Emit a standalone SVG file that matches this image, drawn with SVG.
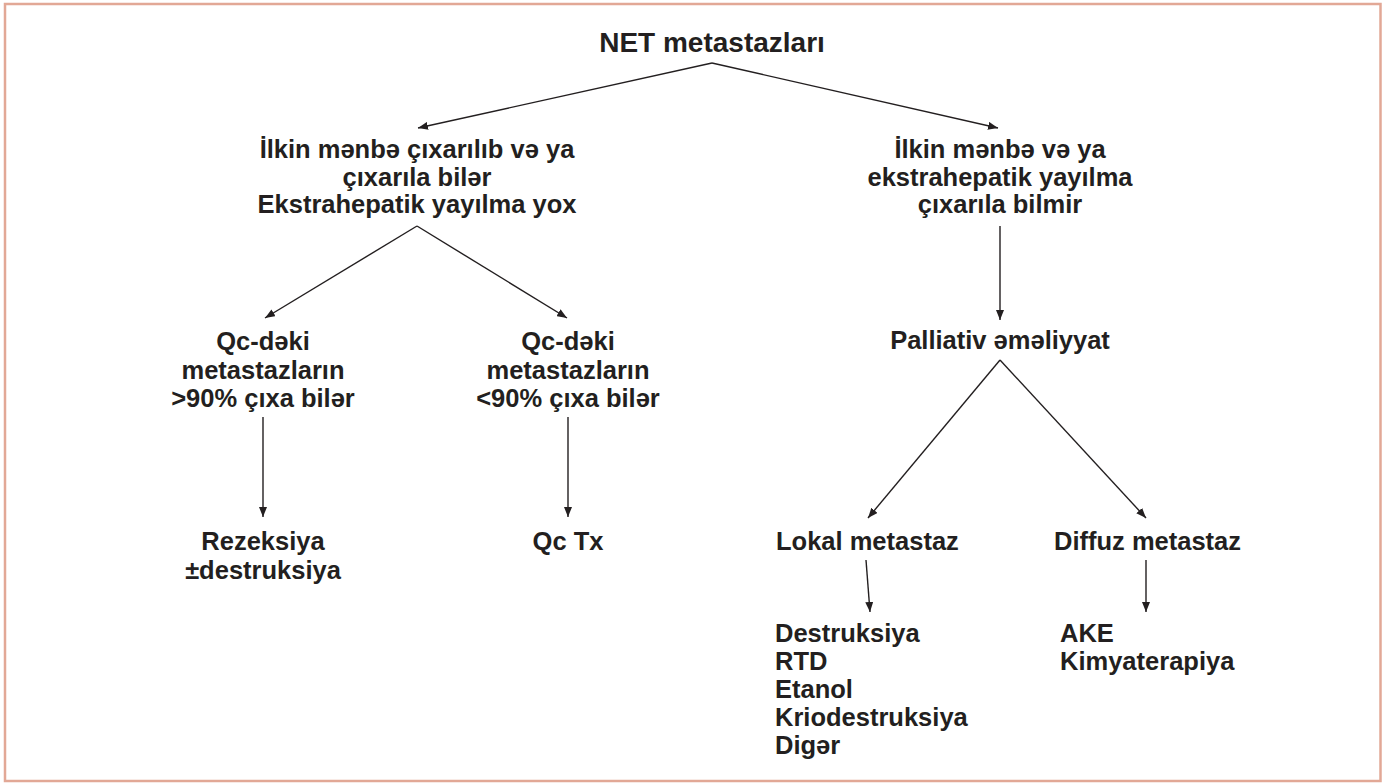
<svg xmlns="http://www.w3.org/2000/svg" width="1384" height="783" viewBox="0 0 1384 783">
<defs>
<marker id="ah" viewBox="0 0 10 8" refX="10" refY="4" markerWidth="10" markerHeight="8" markerUnits="userSpaceOnUse" orient="auto">
<path d="M0,0 L10,4 L0,8 Z" fill="#231f20"/>
</marker>
<style>
text{font-family:"Liberation Sans",Arial,sans-serif;font-weight:bold;font-size:25.5px;fill:#231f20}
.c{text-anchor:middle}
.t{font-size:28px}
.e{stroke:#231f20;stroke-width:1.4;fill:none;marker-end:url(#ah)}
</style>
</defs>
<rect width="1384" height="783" fill="#fff"/>
<rect x="5" y="4" width="1375.5" height="777" fill="none" stroke="#e2a896" stroke-width="2.5"/>
<g id="connectors">
<line class="e" x1="712" y1="63" x2="418" y2="128"/>
<line class="e" x1="712" y1="63" x2="998" y2="128"/>
<line class="e" x1="417" y1="226" x2="265" y2="318"/>
<line class="e" x1="417" y1="226" x2="567" y2="318"/>
<line class="e" x1="1000" y1="226" x2="1000" y2="320"/>
<line class="e" x1="263" y1="417" x2="263" y2="517"/>
<line class="e" x1="568" y1="417" x2="568" y2="517"/>
<line class="e" x1="1000" y1="360" x2="868" y2="518"/>
<line class="e" x1="1000" y1="360" x2="1146" y2="518"/>
<line class="e" x1="866" y1="560" x2="870" y2="612"/>
<line class="e" x1="1146" y1="560" x2="1146" y2="612"/>
</g>
<g id="n-root"><text class="c t" x="712" y="52">NET metastazları</text></g>
<g id="n-left"><text class="c" x="417" y="158">İlkin mənbə çıxarılıb və ya</text><text class="c" x="417" y="186">çıxarıla bilər</text><text class="c" x="417" y="213">Ekstrahepatik yayılma yox</text></g>
<g id="n-right"><text class="c" x="1000" y="158">İlkin mənbə və ya</text><text class="c" x="1000" y="186">ekstrahepatik yayılma</text><text class="c" x="1000" y="213">çıxarıla bilmir</text></g>
<g id="n-qc1"><text class="c" x="263" y="350">Qc-dəki</text><text class="c" x="263" y="379">metastazların</text><text class="c" x="263" y="407">&gt;90% çıxa bilər</text></g>
<g id="n-qc2"><text class="c" x="568" y="350">Qc-dəki</text><text class="c" x="568" y="379">metastazların</text><text class="c" x="568" y="407">&lt;90% çıxa bilər</text></g>
<g id="n-pall"><text class="c" x="1000" y="349">Palliativ əməliyyat</text></g>
<g id="n-rez"><text class="c" x="263" y="550">Rezeksiya</text><text class="c" x="263" y="579">±destruksiya</text></g>
<g id="n-qctx"><text class="c" x="568" y="550">Qc Tx</text></g>
<g id="n-lokal"><text x="776" y="550">Lokal metastaz</text></g>
<g id="n-diffuz"><text x="1054" y="550">Diffuz metastaz</text></g>
<g id="n-list1"><text x="775" y="642">Destruksiya</text><text x="775" y="670">RTD</text><text x="775" y="698">Etanol</text><text x="775" y="726">Kriodestruksiya</text><text x="775" y="754">Digər</text></g>
<g id="n-list2"><text x="1060" y="642">AKE</text><text x="1060" y="670">Kimyaterapiya</text></g>
</svg>
